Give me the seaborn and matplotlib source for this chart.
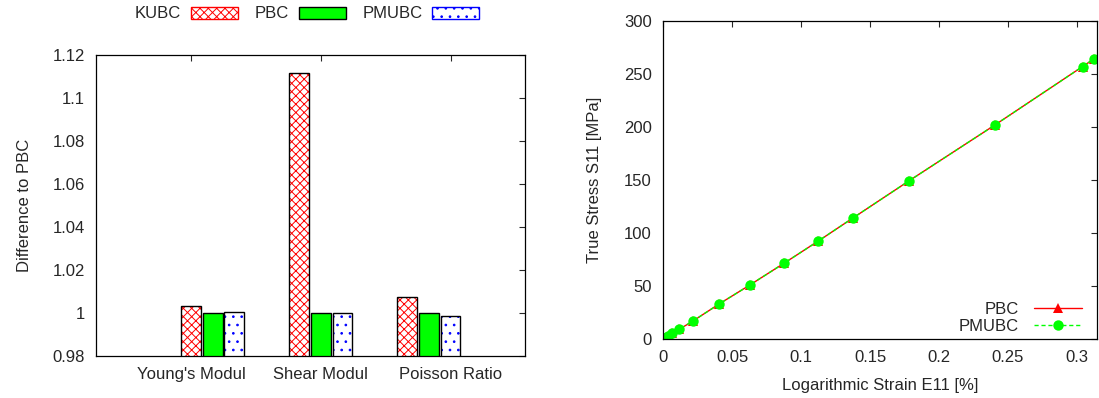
import numpy as np
import pandas as pd
import seaborn as sns
import matplotlib
matplotlib.use("Agg")
import matplotlib.pyplot as plt
from matplotlib.patches import Patch, Rectangle
from matplotlib.lines import Line2D

# ------------------------------
# data
# ------------------------------
properties = ["Young's Modul", "Shear Modul", "Poisson Ratio"]
methods = ["KUBC", "PBC", "PMUBC"]
kubc_vals = [1.0033, 1.1115, 1.0074]
pbc_vals = [1.0000, 1.0000, 1.0000]
pmubc_vals = [1.0006, 1.0001, 0.9986]

strain = [0.0, 0.001, 0.0035, 0.0065, 0.0116, 0.0217, 0.0406, 0.063,
          0.0877, 0.112, 0.138, 0.178, 0.2406, 0.304, 0.3125]
stress_pbc = [0.0, 1.0, 3.0, 5.6, 9.0, 17.0, 33.0, 51.0,
              71.5, 92.0, 114.5, 149.0, 202.0, 257.0, 264.5]
stress_pmubc = [0.0, 1.0, 3.0, 5.6, 9.0, 17.0, 33.0, 51.0,
                71.5, 92.0, 114.5, 149.0, 202.0, 257.0, 264.5]

# ------------------------------
# style
# ------------------------------
sns.set_style("white")
plt.rcParams['font.family'] = ['Liberation Sans', 'DejaVu Sans']
plt.rcParams['font.size'] = 12
plt.rcParams['hatch.linewidth'] = 0.7
plt.rcParams['axes.linewidth'] = 0.9

fig = plt.figure(figsize=(10.99, 3.98), dpi=100)
ax1 = fig.add_axes([0.0874, 0.1055, 0.3904, 0.7563])
ax2 = fig.add_axes([0.6033, 0.1482, 0.3949, 0.799])

# ------------------------------
# left: bar chart
# ------------------------------
bars = pd.DataFrame({
    "prop": properties * 3,
    "method": [m for m in methods for _ in properties],
    "value": kubc_vals + pbc_vals + pmubc_vals,
})

face = {"KUBC": "white", "PBC": "#00ff00", "PMUBC": "white"}
hatch = {"KUBC": "xxxx", "PBC": "", "PMUBC": ".."}
hcol = {"KUBC": "red", "PBC": "black", "PMUBC": "blue"}

sns.barplot(data=bars, x="prop", y="value", hue="method", hue_order=methods,
            order=properties, width=0.6, gap=0.08, legend=False, ax=ax1,
            palette=face)

for i, cont in enumerate(ax1.containers):
    m = methods[i]
    for p in cont.patches:
        p.set_facecolor(face[m])
        p.set_edgecolor(hcol[m])
        p.set_hatch(hatch[m])
        p.set_linewidth(0)
        # black outline on top of the coloured hatch
        ax1.add_patch(Rectangle(p.get_xy(), p.get_width(), p.get_height(),
                                fill=False, edgecolor="black", linewidth=1.0,
                                zorder=p.get_zorder() + 0.1))

ax1.set_ylim(0.98, 1.12)
ax1.set_xlim(-1.08, 2.89)
ax1.set_yticks(np.arange(0.98, 1.121, 0.02))
ax1.set_yticklabels(["0.98", "1", "1.02", "1.04", "1.06", "1.08", "1.1", "1.12"])
ax1.set_xticks([-0.2, 1.0, 2.2])
ax1.set_xticklabels(properties)
ax1.set_xlabel("")
ax1.set_ylabel("Difference to PBC", labelpad=15)
ax1.tick_params(direction="in", top=True, right=True, length=4, width=0.8,
                pad=8)

leg_handles = [Patch(facecolor=face[m], edgecolor=hcol[m], hatch=hatch[m],
                     linewidth=1.0) for m in methods]
fig.legend(leg_handles, methods, ncol=3, loc="center",
           bbox_to_anchor=(307 / 1099, 1 - 14 / 398), frameon=False,
           markerfirst=False, handlelength=2.8, handleheight=0.75,
           handletextpad=0.6, columnspacing=1.0, fontsize=12)

# ------------------------------
# right: stress-strain
# ------------------------------
curve = pd.DataFrame({"strain": strain, "pbc": stress_pbc, "pmubc": stress_pmubc})
sns.lineplot(data=curve, x="strain", y="pbc", ax=ax2, color="red",
             marker="^", markersize=7.5, markeredgewidth=0, linewidth=1.0)
sns.lineplot(data=curve, x="strain", y="pmubc", ax=ax2, color="#00ff00",
             marker="o", markersize=7.5, markeredgewidth=0, linewidth=1.0,
             linestyle=(0, (3, 2)))

ax2.set_xlim(0, 0.3145)
ax2.set_ylim(0, 300)
ax2.set_xticks([0, 0.05, 0.1, 0.15, 0.2, 0.25, 0.3])
ax2.set_xticklabels(["0", "0.05", "0.1", "0.15", "0.2", "0.25", "0.3"])
ax2.set_yticks(np.arange(0, 301, 50))
ax2.set_xlabel("Logarithmic Strain E11 [%]", labelpad=9)
ax2.set_ylabel("True Stress S11 [MPa]", labelpad=16)
ax2.tick_params(direction="in", top=True, right=True, length=4, width=0.8,
                pad=8)

line_handles = [
    Line2D([], [], color="red", marker="^", markersize=7.5, markeredgewidth=0,
           linewidth=1.0),
    Line2D([], [], color="#00ff00", marker="o", markersize=7.5,
           markeredgewidth=0, linewidth=1.0, linestyle=(0, (3, 2))),
]
ax2.legend(line_handles, ["PBC", "PMUBC"], loc="lower right",
           bbox_to_anchor=(1.0, -0.03), frameon=False, markerfirst=False,
           handlelength=2.9, handletextpad=0.9, labelspacing=0.1,
           fontsize=12)

for ax in (ax1, ax2):
    for s in ax.spines.values():
        s.set_color("black")

fig.savefig("out.png", dpi=100)
